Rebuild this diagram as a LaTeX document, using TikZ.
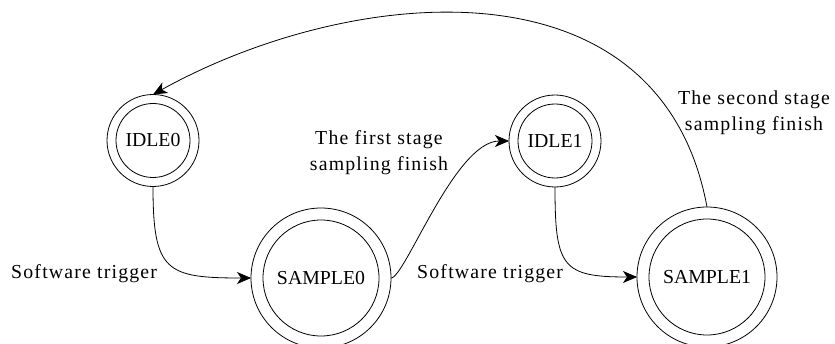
\documentclass[tikz,border=0pt]{standalone}
\usepackage{fontspec}
\setmainfont{Liberation Serif}
\newfontfamily\lblfamily[LetterSpace=6]{Liberation Serif}
\usetikzlibrary{arrows.meta}
\begin{document}
\begin{tikzpicture}[x=1pt,y=1pt,
  ring/.style={circle, draw, line width=0.8pt, inner sep=0pt, outer sep=0pt, font=\fontsize{19.8}{24}\selectfont},
  smallring/.style={ring, minimum size=92pt, path picture={\draw[line width=0.8pt] (path picture bounding box.center) circle[radius=37pt];}},
  bigring/.style={ring, minimum size=140pt, path picture={\draw[line width=0.8pt] (path picture bounding box.center) circle[radius=58pt];}},
  lbl/.style={font=\lblfamily\fontsize{19.8}{26}\selectfont, inner sep=0pt, align=center},
  conn/.style={draw, line width=0.8pt, -{Stealth[length=14pt,width=12pt,inset=4pt]}}
]
\useasboundingbox[fill=white] (0,0) rectangle (835,343);
\node[smallring] (i0) at (153,202.5) {IDLE0};
\node[bigring] (s0) at (321,65) {SAMPLE0};
\node[smallring] (i1) at (555,202) {IDLE1};
\node[bigring] (s1) at (707,66) {SAMPLE1};
\draw[conn] (i0.south) .. controls +(0,-85) and +(-85,0) .. (s0.west);
\draw[conn] (s0.east) .. controls +(14,0) and +(-54,0) .. (i1.west);
\draw[conn] (i1.south) .. controls +(0,-80) and +(-75,0) .. (s1.west);
\draw[conn] (s1.north) .. controls +(-47,254) and +(196,109) .. (i0.north);
\node[lbl, anchor=base west] (t1) at (11,65) {Software trigger};
\node[lbl, anchor=base west] (t2) at (417,65) {Software trigger};
\node[lbl, anchor=base] (t3) at (379,172) {The first stage\\sampling finish};
\node[lbl, anchor=base] (t4) at (754,212) {The second stage\\sampling finish};
\end{tikzpicture}
\end{document}
